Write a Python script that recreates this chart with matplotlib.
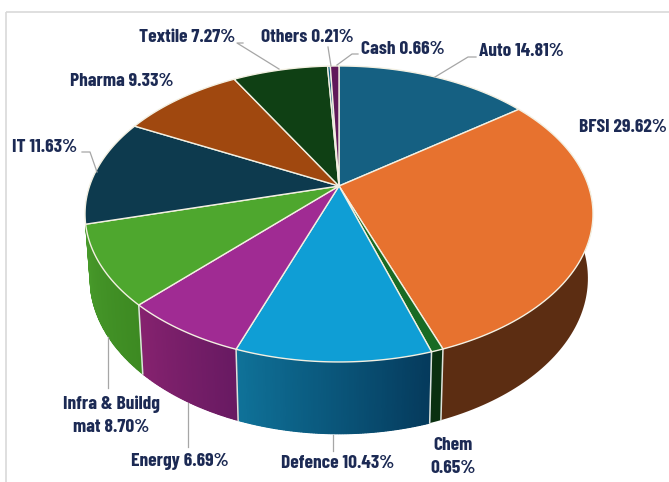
from __future__ import annotations

import matplotlib

matplotlib.use("Agg")

import matplotlib.pyplot as plt
import numpy as np
from matplotlib.colors import to_rgb
from matplotlib.patches import Rectangle


SECTORS = ["Auto", "BFSI", "Chem", "Defence", "Energy", "Infra & Buildg mat", "IT", "Pharma", "Textile", "Others", "Cash"]
WEIGHTS = [14.81, 29.62, 0.65, 10.43, 6.69, 8.70, 11.63, 9.33, 7.27, 0.21, 0.66]
LABEL_TEXT = [
    "Auto 14.81%", "BFSI 29.62%", "Chem\n0.65%", "Defence 10.43%", "Energy 6.69%",
    "Infra & Buildg\nmat 8.70%", "IT 11.63%", "Pharma 9.33%", "Textile 7.27%",
    "Others 0.21%", "Cash 0.66%",
]

TOP_COLORS = ["#156082", "#E7722F", "#196B24", "#0F9ED5", "#A02B93", "#4EA72E",
              "#0D3A4E", "#A0480F", "#0F4014", "#0A5E7F", "#60195A"]
WALL_START = ["#5C2D12", "#0A3010", "#0F7299", "#86226F", "#47992A"]
WALL_END = ["#5C2D12", "#0A3010", "#053A5C", "#681A62", "#3D8A22"]

LABEL_POS = [(521, 52), (623, 127), (453, 457), (338, 464), (180, 461),
             (111, 416), (45, 147), (122, 82), (187, 37), (307, 37), (403, 50)]
LEADERS = [
    [(476, 57), (468, 57), (435, 77)],
    [(108, 337), (108, 388)],
    [(188, 403), (188, 447)],
    [(333, 435), (333, 451)],
    [(82, 152), (90, 152), (97, 172)],
    [(243, 43), (237, 43), (279, 69)],
    [(328, 47), (331, 66)],
    [(358, 54), (352, 54), (337, 65)],
]

# Perspective of the disc, in pixels of the output image
APEX_X, APEX_Y = 339, 186
RADIUS_X, RADIUS_Y = 249.4, 142.7
TILT = 0.189
WALL_SCALE_X, WALL_SCALE_Y, WALL_DROP = 0.98, 1.05, 63


def rim(theta: np.ndarray) -> tuple[np.ndarray, np.ndarray]:
    """Top rim of the pie; theta runs clockwise from twelve o'clock."""
    x = np.sin(theta)
    y = -np.cos(theta)
    w = 1 - TILT * y
    return APEX_X + RADIUS_X * x / w, APEX_Y + RADIUS_Y * y / w


def base(theta: np.ndarray) -> tuple[np.ndarray, np.ndarray]:
    x, y = rim(theta)
    return (
        APEX_X + WALL_SCALE_X * (x - APEX_X),
        APEX_Y + WALL_DROP + WALL_SCALE_Y * (y - APEX_Y),
    )


def draw_wall(ax, start: float, end: float, color_a: str, color_b: str) -> None:
    # Solid panel first so the shaded strips leave no light seams
    theta = np.linspace(start, end, 60)
    tx, ty = rim(theta)
    bx, by = base(theta)
    ax.fill(np.r_[tx, bx[::-1]], np.r_[ty, by[::-1]], color=color_a, lw=0, zorder=1)

    if color_a == color_b:
        return

    steps = max(int((end - start) * 120), 2)
    edges = np.linspace(start, end, steps + 1)
    rgb_a, rgb_b = np.array(to_rgb(color_a)), np.array(to_rgb(color_b))
    for i in range(steps):
        pair = edges[i : i + 2]
        tx, ty = rim(pair)
        bx, by = base(pair)
        # wall runs right to left as theta grows, so the shade is flipped
        shade = rgb_b + (rgb_a - rgb_b) * i / max(steps - 1, 1)
        ax.fill(
            [tx[0], tx[1], bx[1], bx[0]],
            [ty[0], ty[1], by[1], by[0]],
            color=tuple(shade), lw=0.8, zorder=1,
        )


def main() -> None:
    plt.rcParams["font.family"] = ["Barlow Condensed", "IBM Plex Sans Condensed", "Liberation Sans", "DejaVu Sans"]

    fig = plt.figure(figsize=(6.69, 4.82), dpi=100)
    ax = fig.add_axes([0, 0, 1, 1])
    ax.set_xlim(0, 669)
    ax.set_ylim(482, 0)
    ax.axis("off")

    ax.add_patch(Rectangle((6, 11.5), 700, 500, fill=False, ec="#D9D9D9", lw=1.2, zorder=0))

    fractions = np.cumsum([0] + WEIGHTS) / sum(WEIGHTS)
    angles = fractions * 2 * np.pi

    # Only the front panels show, from BFSI round to Infra
    for i in range(1, 6):
        draw_wall(ax, angles[i] if i > 1 else np.pi * 0.5, angles[i + 1], WALL_START[i - 1], WALL_END[i - 1])

    # Pale seams between the front wall panels
    for angle in angles[2:6]:
        tx, ty = rim(np.array([angle]))
        bx, by = base(np.array([angle]))
        ax.plot([tx[0], bx[0]], [ty[0], by[0]], color="#DDE3DC", lw=1.1, zorder=2)

    for i in range(len(WEIGHTS)):
        theta = np.linspace(angles[i], angles[i + 1], 80)
        x, y = rim(theta)
        ax.fill(
            np.r_[APEX_X, x], np.r_[APEX_Y, y],
            facecolor=TOP_COLORS[i], edgecolor="#F3F0E2", lw=1.0,
            joinstyle="round", zorder=3,
        )

    for points in LEADERS:
        xs, ys = zip(*points)
        ax.plot(xs, ys, color="#A6A6A6", lw=0.9, zorder=4)

    for text, (x, y) in zip(LABEL_TEXT, LABEL_POS):
        ax.text(
            x, y, text, ha="center", va="center", fontsize=14, fontweight="bold",
            color="#1C2A54", linespacing=1.5, zorder=5,
        )

    fig.savefig("out.png", dpi=100)
    plt.close(fig)


if __name__ == "__main__":
    main()
